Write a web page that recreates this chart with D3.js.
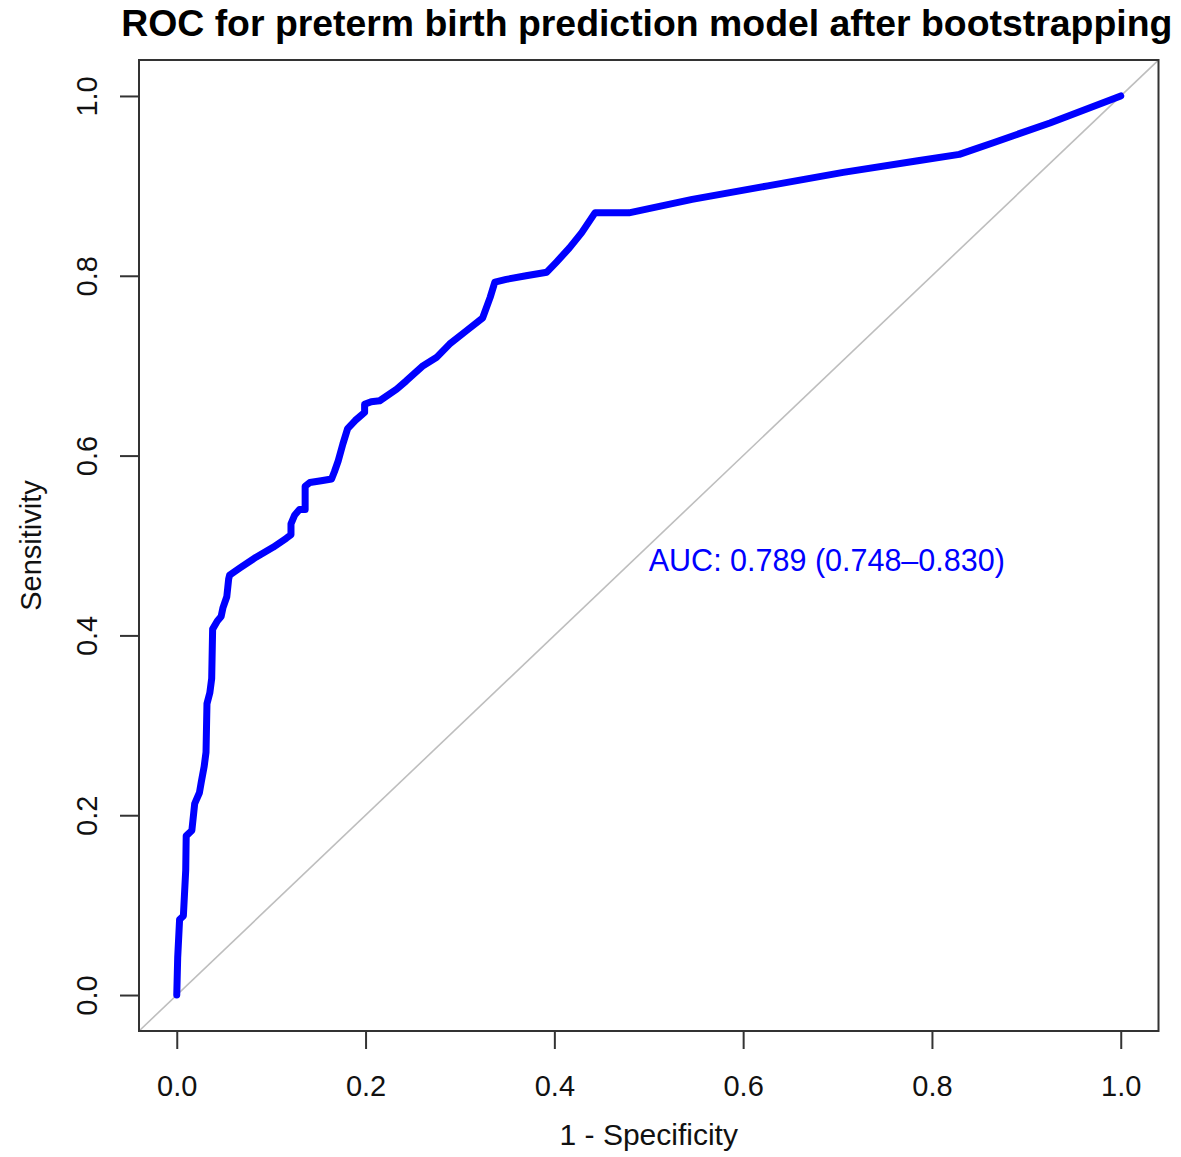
<!DOCTYPE html>
<html>
<head>
<meta charset="utf-8">
<script src="https://cdn.jsdelivr.net/npm/d3@7"></script>
<style>
    body { margin: 0; background: white; }
    svg text { font-family: "Liberation Sans", Arial, sans-serif; }
</style>
</head>
<body>
<div id="chart"></div>
<script>

// 1 - specificity (false positive rate)
var fpr = [0, 0.001, 0.003, 0.007, 0.0095, 0.01, 0.016, 0.019, 0.024, 0.026, 0.029, 0.031,
    0.032, 0.035, 0.037, 0.038, 0.043, 0.047, 0.049, 0.053, 0.055, 0.056, 0.067, 0.084,
    0.102, 0.116, 0.121, 0.121, 0.125, 0.13, 0.136, 0.136, 0.141, 0.153, 0.164, 0.167,
    0.171, 0.176, 0.181, 0.189, 0.199, 0.199, 0.206, 0.215, 0.233, 0.243, 0.261, 0.275,
    0.289, 0.307, 0.324, 0.332, 0.337, 0.349, 0.37, 0.392, 0.402, 0.416, 0.429, 0.443,
    0.479, 0.546, 0.626, 0.706, 0.785, 0.829, 0.865, 0.925, 1];

// sensitivity
var tpr = [0, 0.042, 0.084, 0.088, 0.139, 0.177, 0.183, 0.213, 0.225, 0.237, 0.254, 0.27,
    0.324, 0.336, 0.352, 0.407, 0.416, 0.421, 0.431, 0.443, 0.463, 0.467, 0.475, 0.487,
    0.498, 0.508, 0.512, 0.524, 0.534, 0.54, 0.54, 0.566, 0.57, 0.572, 0.574, 0.582,
    0.594, 0.613, 0.63, 0.639, 0.648, 0.657, 0.66, 0.661, 0.674, 0.683, 0.7, 0.709,
    0.724, 0.739, 0.753, 0.776, 0.793, 0.796, 0.8, 0.804, 0.815, 0.831, 0.848, 0.87,
    0.87, 0.885, 0.9, 0.915, 0.928, 0.935, 0.948, 0.97, 1];

var tickValues = [0, 0.2, 0.4, 0.6, 0.8, 1.0];
var tickLabels = ["0.0", "0.2", "0.4", "0.6", "0.8", "1.0"];

var titleText = "ROC for preterm birth prediction model after bootstrapping";
var xLabel = "1 - Specificity";
var yLabel = "Sensitivity";
var aucText = "AUC: 0.789 (0.748\u20130.830)";
var aucPos = [0.5, 0.484];


RocChart = function(container){

    this.container = container;

    this.full_width = 1181;
    this.full_height = 1157;

    this.box = {left: 139, right: 1158.5, top: 60, bottom: 1031};

    this._init();
};

RocChart.prototype._init = function(){

    this._build_graph();
    this._draw_diagonal();
    this._draw_curve();
    this._draw_box();
    this._draw_axes();
    this._draw_labels();

};

RocChart.prototype._build_graph = function(){

    var box = this.box;

    // R extends the 0..1 range by 4% on each side
    this.x = d3.scaleLinear().domain([-0.04, 1.04]).range([box.left, box.right]);
    this.y = d3.scaleLinear().domain([-0.04, 1.04]).range([box.bottom, box.top]);

    this._svg = d3.select(this.container)
        .append("svg")
        .attr("width", this.full_width)
        .attr("height", this.full_height);

    this._svg.append("clipPath")
        .attr("id", "plotClip")
        .append("rect")
        .attr("x", box.left)
        .attr("y", box.top)
        .attr("width", box.right - box.left)
        .attr("height", box.bottom - box.top);

};

RocChart.prototype._draw_diagonal = function(){

    var x = this.x, y = this.y;

    this._svg.append("line")
        .attr("clip-path", "url(#plotClip)")
        .attr("x1", x(-0.04)).attr("y1", y(-0.04))
        .attr("x2", x(1.04)).attr("y2", y(1.04))
        .style("stroke", "#bebebe")
        .style("stroke-width", 1.6);

};

RocChart.prototype._draw_curve = function(){

    var x = this.x, y = this.y;
    var pts = d3.zip(fpr, tpr);

    var line = d3.line()
        .x(function(d){ return x(d[0]); })
        .y(function(d){ return y(d[1]); });

    this._svg.append("path")
        .datum(pts)
        .attr("d", line)
        .style("fill", "none")
        .style("stroke", "#0000ff")
        .style("stroke-width", 7)
        .style("stroke-linejoin", "round")
        .style("stroke-linecap", "round");

};

RocChart.prototype._draw_box = function(){

    var box = this.box;

    this._svg.append("rect")
        .attr("x", box.left)
        .attr("y", box.top)
        .attr("width", box.right - box.left)
        .attr("height", box.bottom - box.top)
        .style("fill", "none")
        .style("stroke", "#333")
        .style("stroke-width", 2);

};

RocChart.prototype._draw_axes = function(){

    var box = this.box;

    var xAxis = d3.axisBottom(this.x)
        .tickValues(tickValues)
        .tickSize(18)
        .tickPadding(26)
        .tickFormat(function(d, i){ return tickLabels[i]; });

    var gx = this._svg.append("g")
        .attr("transform", "translate(0," + box.bottom + ")")
        .call(xAxis);

    gx.select(".domain").remove();
    gx.selectAll("line").style("stroke", "#333").style("stroke-width", 2);
    gx.selectAll("text")
        .style("font-size", "29px")
        .style("fill", "#111");

    var yAxis = d3.axisLeft(this.y)
        .tickValues(tickValues)
        .tickSize(19)
        .tickFormat(function(d, i){ return tickLabels[i]; });

    var gy = this._svg.append("g")
        .attr("transform", "translate(" + box.left + ",0)")
        .call(yAxis);

    gy.select(".domain").remove();
    gy.selectAll("line").style("stroke", "#333").style("stroke-width", 2);

    // R draws the y tick labels parallel to the axis (tick group already sits at y)
    gy.selectAll("text")
        .attr("x", null)
        .attr("dy", null)
        .attr("text-anchor", "middle")
        .attr("transform", "translate(" + (97 - box.left) + ",0) rotate(-90)")
        .style("font-size", "29px")
        .style("fill", "#111");

};

RocChart.prototype._draw_labels = function(){

    var box = this.box;
    var cx = (box.left + box.right) / 2;
    var cy = (box.top + box.bottom) / 2;

    this._svg.append("text")
        .attr("x", cx - 2)
        .attr("y", 36)
        .attr("text-anchor", "middle")
        .style("font-size", "37.4px")
        .style("font-weight", "bold")
        .style("fill", "#000")
        .text(titleText);

    this._svg.append("text")
        .attr("x", cx)
        .attr("y", 1145)
        .attr("text-anchor", "middle")
        .style("font-size", "30px")
        .style("fill", "#111")
        .text(xLabel);

    this._svg.append("text")
        .attr("transform", "translate(41," + cy + ") rotate(-90)")
        .attr("text-anchor", "middle")
        .style("font-size", "29px")
        .style("fill", "#111")
        .text(yLabel);

    this._svg.append("text")
        .attr("x", this.x(aucPos[0]))
        .attr("y", this.y(aucPos[1]))
        .attr("dy", "0.36em")
        .style("font-size", "30.5px")
        .style("fill", "#0000ff")
        .text(aucText);

};

new RocChart("#chart");

</script>
</body>
</html>
